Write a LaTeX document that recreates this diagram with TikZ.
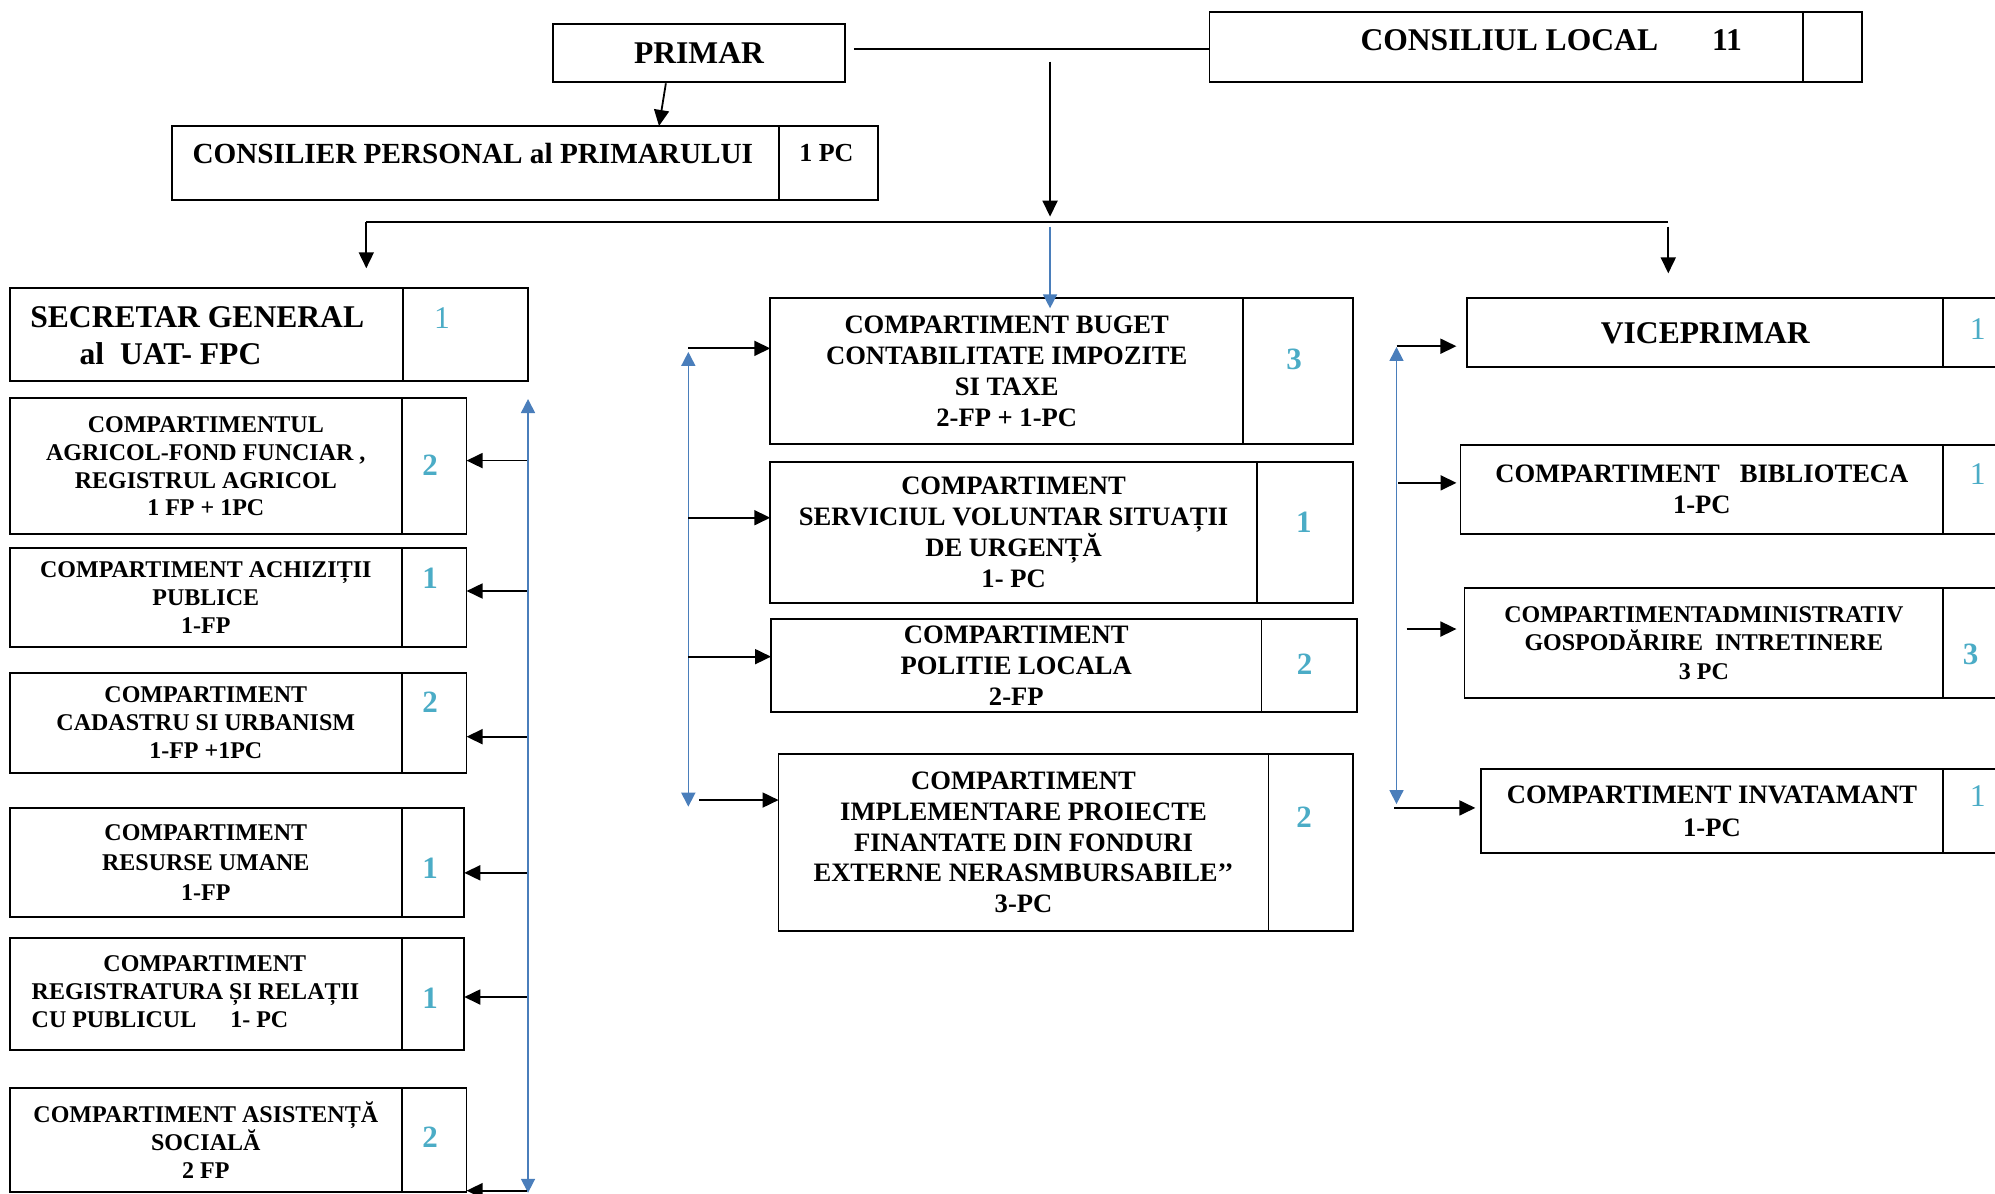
\documentclass[tikz,border=0pt]{standalone}
\usepackage{fontspec}
\setmainfont{Liberation Serif}
\usepackage{tikz}
\usetikzlibrary{calc}
\usetikzlibrary{arrows.meta}
\definecolor{numteal}{HTML}{4BACC6}
\definecolor{spineblue}{HTML}{4A7EBB}
\newcommand{\unitpx}{0.6362pt}
\tikzset{
  mycell/.style={
    draw=black,
    shape=rectangle,
    line width=0.9pt,
    align=center,
    inner sep=0pt,
    outer sep=0pt,
    anchor=north west,
  },
  cellsize/.style 2 args={
    minimum width=#1*\unitpx,
    minimum height=#2*\unitpx,
  },
  mytext/.style={
    inner sep=0pt,
    align=center,
  },
  toptext/.style={font=\fontsize{15.8}{18.4}\selectfont\bfseries},
  lefttext/.style={font=\fontsize{12}{13.9}\selectfont\bfseries},
  midtext/.style={font=\fontsize{13.3}{15.4}\selectfont\bfseries},
  mynum/.style={
    text=numteal,
    inner sep=0pt,
    font=\fontsize{15.5}{16}\selectfont\bfseries,
  },
  mylightnum/.style={
    text=numteal,
    inner sep=0pt,
    font=\fontsize{15.8}{16}\selectfont,
  },
  myline/.style={
    draw=black,
    line width=1pt,
  },
  myarrow/.style={
    draw=black,
    line width=0.9pt,
    -{Triangle[length=8pt,width=7.5pt]},
  },
  mybluearrow/.style={
    draw=spineblue,
    line width=0.8pt,
    -{Triangle[length=7pt,width=7pt]},
  },
  myspine/.style={
    draw=spineblue,
    line width=0.8pt,
    {Triangle[length=7pt,width=7pt]}-{Triangle[length=7pt,width=7pt]},
  },
}

\begin{document}
\begin{tikzpicture}[x=\unitpx, y=-\unitpx]
  \useasboundingbox (0,0) rectangle (1568,938);

  % conducere
  \node[mycell, toptext, cellsize={229.7}{45.3}] (primar) at (434.5,18.9) {PRIMAR};
  \node[mycell, cellsize={466.6}{55}] (clocal) at (950.6,9.2) {};
  \node[mycell, cellsize={46.5}{55}] (clocalN) at (clocal.north east) {};
  \node[mytext, toptext] (clocalT) at (1219.2,31.7) {CONSILIUL LOCAL\hspace{27pt}11};

  \node[mycell, cellsize={476.9}{58.2}] (cons) at (135.4,99) {};
  \node[mycell, cellsize={78}{58.2}] (consN) at (cons.north east) {};
  \node[mytext, font=\fontsize{14.6}{16}\selectfont\bfseries] (consT) at (371.6,120.5) {CONSILIER PERSONAL al PRIMARULUI};
  \node[mytext, font=\fontsize{13}{15}\selectfont\bfseries] (consNum) at (649.5,120.5) {1 PC};

  \node[mycell, cellsize={308.6}{73.4}] (sec) at (8.1,226.1) {};
  \node[mycell, cellsize={98.4}{73.4}] (secN) at (sec.north east) {};
  \node[mytext, toptext, align=left, anchor=west] (secT) at (23.5,264.1) {SECRETAR GENERAL\\\hspace*{24.7pt}al\ \ UAT- FPC};
  \node[mylightnum] (secNum) at (347.4,249.6) {1};

  % coloana stanga
  \node[mycell, lefttext, cellsize={308.1}{106.9}] (agr) at (7.7,313.1) {COMPARTIMENTUL\\AGRICOL-FOND FUNCIAR ,\\REGISTRUL AGRICOL\\1 FP + 1PC};
  \node[mycell, cellsize={50.9}{106.9}] (agrN) at (agr.north east) {};
  \node[mynum] (agrNum) at (338,365.5) {2};

  \node[mycell, lefttext, cellsize={308.1}{77.3}] (ach) at (7.7,431) {COMPARTIMENT ACHIZIȚII\\PUBLICE\\1-FP};
  \node[mycell, cellsize={50.9}{77.3}] (achN) at (ach.north east) {};
  \node[mynum] (achNum) at (338,454.3) {1};

  \node[mycell, lefttext, cellsize={308.1}{78.6}] (cad) at (7.7,528.7) {COMPARTIMENT\\CADASTRU SI URBANISM\\1-FP +1PC};
  \node[mycell, cellsize={50.9}{78.6}] (cadN) at (cad.north east) {};
  \node[mynum] (cadNum) at (338,552.1) {2};

  \node[mycell, cellsize={308.1}{85.2}, font=\fontsize{12}{15}\selectfont\bfseries] (res) at (7.7,635.3) {COMPARTIMENT\\RESURSE UMANE\\1-FP};
  \node[mycell, cellsize={49.1}{85.2}] (resN) at (res.north east) {};
  \node[mynum] (resNum) at (338,682.2) {1};

  \node[mycell, cellsize={308.1}{87.8}] (reg) at (7.7,737.5) {};
  \node[mycell, cellsize={49.1}{87.8}] (regN) at (reg.north east) {};
  \node[mytext, lefttext, align=left, anchor=west] (regT) at (24.6,779.2) {\hspace*{35.9pt}COMPARTIMENT\\REGISTRATURA ȘI RELAȚII\\CU PUBLICUL\hspace{17pt}1- PC};
  \node[mynum] (regNum) at (338,784.9) {1};

  \node[mycell, lefttext, cellsize={308.1}{81.5}] (asi) at (7.7,855.4) {COMPARTIMENT ASISTENȚĂ\\SOCIALĂ\\2 FP};
  \node[mycell, cellsize={50.9}{81.5}] (asiN) at (asi.north east) {};
  \node[mynum] (asiNum) at (338,894) {2};

  % coloana din mijloc
  \node[mycell, midtext, cellsize={371.7}{114.5}] (buget) at (605.4,234.5) {COMPARTIMENT BUGET\\CONTABILITATE IMPOZITE\\SI TAXE\\2-FP + 1-PC};
  \node[mycell, cellsize={86.6}{114.5}] (bugetN) at (buget.north east) {};
  \node[mynum] (bugetNum) at (1017.1,282.3) {3};

  \node[mycell, midtext, cellsize={382.5}{110.8}] (serv) at (605.4,362.9) {COMPARTIMENT\\SERVICIUL VOLUNTAR SITUAȚII\\DE URGENȚĂ\\1- PC};
  \node[mycell, cellsize={75.8}{110.8}] (servN) at (serv.north east) {};
  \node[mynum] (servNum) at (1024.8,410.4) {1};

  \node[mycell, midtext, cellsize={385.5}{73.1}] (pol) at (606,486.8) {COMPARTIMENT\\POLITIE LOCALA\\2-FP};
  \node[mycell, cellsize={75.1}{73.1}] (polN) at (pol.north east) {};
  \node[mynum] (polNum) at (1025.4,522) {2};

  \node[mycell, midtext, cellsize={385.1}{138.9}] (impl) at (611.9,592.6) {COMPARTIMENT\\IMPLEMENTARE PROIECTE\\FINANTATE DIN FONDURI\\EXTERNE NERASMBURSABILE’’\\3-PC};
  \node[mycell, cellsize={66.7}{138.9}] (implN) at (impl.north east) {};
  \node[mynum] (implNum) at (1025,642) {2};

  % coloana dreapta
  \node[mycell, toptext, cellsize={374}{54.2}] (vice) at (1153.3,234.5) {VICEPRIMAR};
  \node[mycell, cellsize={70}{54.2}] (viceN) at (vice.north east) {};
  \node[mylightnum] (viceNum) at (1554.4,259) {1};

  \node[mycell, midtext, cellsize={379.4}{70}] (bib) at (1147.9,349.5) {COMPARTIMENT\ \ \ BIBLIOTECA\\1-PC};
  \node[mycell, cellsize={70}{70}] (bibN) at (bib.north east) {};
  \node[mylightnum] (bibNum) at (1554.4,372.5) {1};

  \node[mycell, cellsize={376.3}{86.3}, font=\fontsize{12}{14.1}\selectfont\bfseries] (adm) at (1151,462.2) {COMPARTIMENTADMINISTRATIV\\GOSPODĂRIRE\ \ INTRETINERE\\3 PC};
  \node[mycell, cellsize={70}{86.3}] (admN) at (adm.north east) {};
  \node[mynum] (admNum) at (1548.8,514) {3};

  \node[mycell, cellsize={363.5}{65.9}, font=\fontsize{13.3}{16.4}\selectfont\bfseries] (inv) at (1163.8,604.5) {COMPARTIMENT INVATAMANT\\1-PC};
  \node[mycell, cellsize={70}{65.9}] (invN) at (inv.north east) {};
  \node[mylightnum] (invNum) at (1554.4,626) {1};

  % legaturi sus
  \coordinate (pl) at ($(primar.east)+(7,-3)$);
  \draw[myline] (pl) -- (pl -| clocal.west);
  \draw[myarrow] ($(primar.south)+(-26,1.3)$) -- ($(cons.north)+(144.1,0)$);

  \coordinate (cltap) at (825.3,48.5);
  \coordinate (bus) at (825.3,174.2);
  \coordinate (busL) at (287.9,174.2);
  \coordinate (busR) at (1311.2,174.2);
  \draw[myarrow, shorten >=2.5pt] (cltap) -- (bus);
  \draw[myline] (busL) -- (busR);
  \draw[myarrow, shorten >=9.7pt] (busL) -- (busL |- sec.north);
  \draw[myarrow, shorten <=2.5pt, shorten >=12.5pt] (busR) -- (busR |- vice.north);
  \draw[mybluearrow, shorten <=2.5pt] (bus) -- ($(bus |- buget.north)+(0,7.8)$);

  % stanga
  \coordinate (lspT) at (415,313.6);
  \coordinate (lspB) at (415,937.5);
  \draw[myspine] (lspT) -- (lspB);
  \coordinate (la1) at (414,362);
  \coordinate (la2) at (414,464.5);
  \coordinate (la3) at (414,579);
  \coordinate (la4) at (414,686);
  \coordinate (la5) at (414,783.6);
  \coordinate (la6) at (414,935.8);
  \draw[myarrow] (la1) -- (la1 -| agrN.east);
  \draw[myarrow] (la2) -- (la2 -| achN.east);
  \draw[myarrow] (la3) -- (la3 -| cadN.east);
  \draw[myarrow] (la4) -- (la4 -| resN.east);
  \draw[myarrow] (la5) -- (la5 -| regN.east);
  \draw[myarrow] (la6) -- (la6 -| asiN.east);

  % mijloc
  \coordinate (mspT) at (541,276.6);
  \coordinate (mspB) at (541,634);
  \draw[myspine] (mspT) -- (mspB);
  \coordinate (ma1) at (541,273.8);
  \coordinate (ma2) at (541,406.9);
  \coordinate (ma3) at (541,516.1);
  \coordinate (ma4) at (549.4,628.8);
  \draw[myarrow] (ma1) -- (ma1 -| buget.west);
  \draw[myarrow] (ma2) -- (ma2 -| serv.west);
  \draw[myarrow] (ma3) -- (ma3 -| pol.west);
  \draw[myarrow] (ma4) -- (ma4 -| impl.west);

  % dreapta
  \coordinate (rspT) at (1097.6,272.7);
  \coordinate (rspB) at (1097.6,632);
  \draw[myspine] (rspT) -- (rspB);
  \coordinate (ra1) at (1097.6,272.1);
  \coordinate (ra2) at (1099,379.5);
  \coordinate (ra3) at (1105.6,494.4);
  \coordinate (ra4) at (1096,635);
  \draw[myarrow, shorten >=5.5pt] (ra1) -- (ra1 -| vice.west);
  \draw[myarrow, shorten >=2pt] (ra2) -- (ra2 -| bib.west);
  \draw[myarrow, shorten >=4pt] (ra3) -- (ra3 -| adm.west);
  \draw[myarrow, shorten >=2.7pt] (ra4) -- (ra4 -| inv.west);
\end{tikzpicture}
\end{document}
